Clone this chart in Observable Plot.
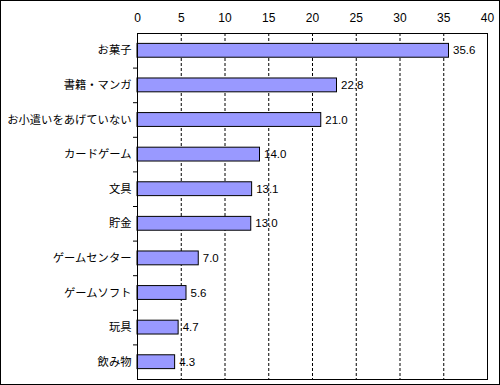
<!DOCTYPE html>
<html>
<head>
<meta charset="utf-8">
<script src="https://cdn.jsdelivr.net/npm/d3@7"></script>
<script src="https://cdn.jsdelivr.net/npm/@observablehq/plot@0.6"></script>
<style>
  html, body { margin: 0; padding: 0; background: #fff; }
  #wrap { position: relative; width: 500px; height: 385px; overflow: hidden; }
  #border { position: absolute; left: 0; top: 0; width: 500px; height: 385px; box-sizing: border-box; border: 1px solid #000; pointer-events: none; }
</style>
</head>
<body>
<div id="wrap"><div id="chart"></div><div id="border"></div></div>
<script>
const categories = ["お菓子", "書籍・マンガ", "お小遣いをあげていない", "カードゲーム", "文具", "貯金", "ゲームセンター", "ゲームソフト", "玩具", "飲み物"];
const values = [35.6, 22.8, 21.0, 14.0, 13.1, 13.0, 7.0, 5.6, 4.7, 4.3];
const xTicks = [0, 5, 10, 15, 20, 25, 30, 35, 40];
const gridTicks = [5, 10, 15, 20, 25, 30, 35];

const data = categories.map((c, i) => ({cat: c, value: values[i]}));

const H = 385, mt = 33, mb = 6;
const step = (H - mt - mb) / categories.length;
const numFont = "'Liberation Sans', Arial, sans-serif";

const chart = Plot.plot({
  width: 500,
  height: H,
  marginLeft: 137,
  marginRight: 13,
  marginTop: mt,
  marginBottom: mb,
  style: {fontFamily: "'Noto Sans CJK JP', 'DejaVu Sans', sans-serif", fontSize: "11px", color: "#000", background: "#fff"},
  x: {domain: [0, 40], ticks: xTicks},
  y: {domain: categories, paddingInner: 0.6, paddingOuter: 0.3, round: false},
  marks: [
    Plot.ruleX(gridTicks, {stroke: "#000", strokeDasharray: "3,2", strokeWidth: 1}),
    Plot.barX(data, {x: "value", y: "cat", fill: "#9999ff", stroke: "#000", strokeWidth: 1}),
    Plot.text(data, {x: "value", y: "cat", text: d => d.value.toFixed(1), dx: 4, textAnchor: "start", fill: "#000", fontSize: 11.5, fontFamily: numFont}),
    Plot.frame({stroke: "#000", strokeWidth: 1}),
    Plot.axisX({anchor: "top", ticks: xTicks, tickSize: 0, tickPadding: 12, label: null, fontSize: 12, fontFamily: numFont}),
    Plot.axisY({anchor: "left", tickSize: 0, tickPadding: 6, label: null, fontSize: 11.3}),
    Plot.axisY(categories.slice(0, -1), {anchor: "left", tickSize: 4, text: null, dy: step / 2, label: null, stroke: "#000"})
  ]
});
document.getElementById("chart").appendChild(chart);
</script>
</body>
</html>
